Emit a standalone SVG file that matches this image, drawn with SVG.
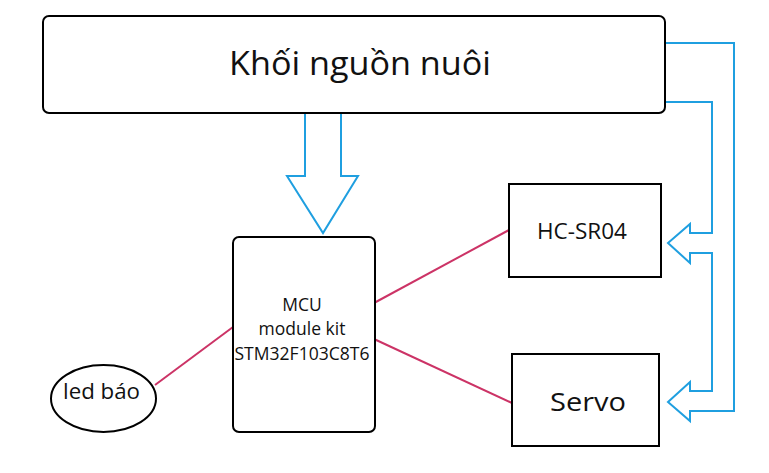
<svg xmlns="http://www.w3.org/2000/svg" width="769" height="473" viewBox="0 0 769 473">
<style>
.box{fill:#fff;stroke:#000;stroke-width:2}
.t{font-family:"Open Sans","Liberation Sans",sans-serif;fill:#111;text-anchor:middle}
.pw{fill:none;stroke:#1f9fe0;stroke-width:2;stroke-linejoin:miter}
.sig{stroke:#cc3366;stroke-width:2;fill:none}
</style>
<rect width="769" height="473" fill="#fff"/>
<g id="connectors">
<polyline class="pw" points="665,43 734,43 734,411 690,411 690,421 668,402 690,382 690,391 712,391 712,253 690,253 690,263 668,243 690,224 690,233 712,233 712,102 665,102"/>
<polygon class="pw" points="305,113 305,176 287,176 323,233 358,176 341,176 341,113"/>
<line class="sig" x1="374" y1="303" x2="509" y2="230"/>
<line class="sig" x1="374" y1="339" x2="512" y2="403"/>
<line class="sig" x1="155" y1="385" x2="233" y2="327"/>
</g>
<g id="power">
<rect class="box" x="43" y="16" width="622" height="97" rx="6"/>
<text class="t" x="360" y="75" font-size="33" textLength="262" lengthAdjust="spacingAndGlyphs">Khối nguồn nuôi</text>
</g>
<g id="mcu">
<rect class="box" x="233" y="237" width="142" height="195" rx="6"/>
<text class="t" x="302" y="311" font-size="17.5">MCU</text>
<text class="t" x="302" y="335" font-size="17.5">module kit</text>
<text class="t" x="302" y="360" font-size="17.5" textLength="135" lengthAdjust="spacingAndGlyphs">STM32F103C8T6</text>
</g>
<g id="hcsr04">
<rect class="box" x="509" y="184" width="152" height="93"/>
<text class="t" x="582" y="239" font-size="21" textLength="90" lengthAdjust="spacingAndGlyphs">HC-SR04</text>
</g>
<g id="servo">
<rect class="box" x="512" y="354" width="147" height="92"/>
<text class="t" x="588" y="411" font-size="25" textLength="76" lengthAdjust="spacingAndGlyphs">Servo</text>
</g>
<g id="led">
<ellipse class="box" cx="103.5" cy="398.5" rx="52.5" ry="33.5"/>
<text class="t" x="101.5" y="399" font-size="21" textLength="77" lengthAdjust="spacingAndGlyphs">led báo</text>
</g>
</svg>
